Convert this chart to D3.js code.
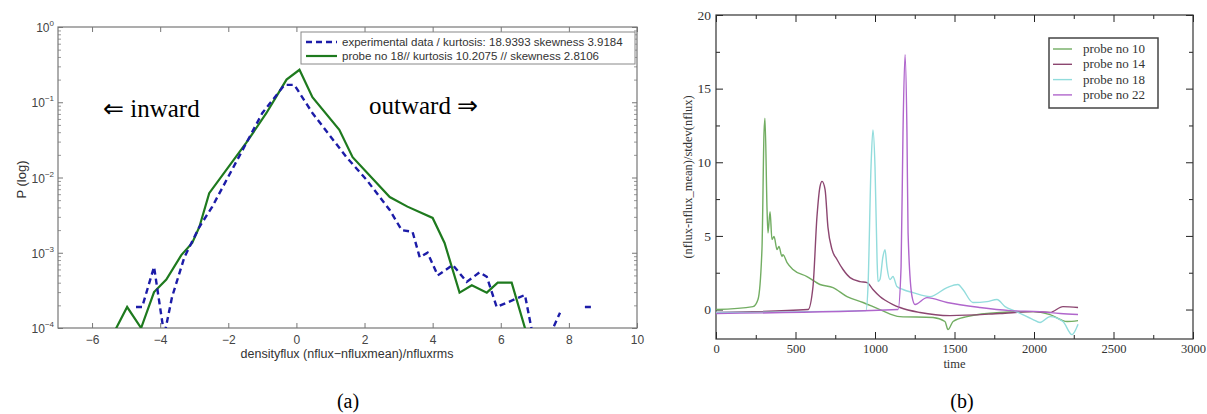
<!DOCTYPE html>
<html>
<head>
<meta charset="utf-8">
<title>flux pdf and probes</title>
<script src="https://d3js.org/d3.v7.min.js"></script>
<style>
  body { margin: 0; background: #fff; }
  svg { display: block; }
</style>
</head>
<body>
<div id="chart"></div>
<script>
// ---- panel (a): pdf of densityflux, log scale ----
var expX = [-4.71, -4.53, -4.18, -3.88, -3.65, -3.29, -2.85, -2.47, -1.74, -1.0, -0.35, -0.06, 0.47, 1.47, 2.06, 2.74, 3.09, 3.41, 3.62, 3.85, 4.15, 4.59, 5.0, 5.38, 5.59, 5.88, 6.71, 6.94, 7.2, 7.44, 7.74, 8.1, 8.47, 8.76];
var expP = [1.9e-4, 1.9e-4, 6.5e-4, 8e-5, 2.6e-4, 8.7e-4, 2.2e-3, 4.1e-3, 0.017, 0.072, 0.17, 0.17, 0.072, 0.0186, 0.0093, 0.0037, 0.002, 0.0019, 8.7e-4, 1.0e-3, 5.0e-4, 6.9e-4, 4.1e-4, 5.5e-4, 4.8e-4, 1.9e-4, 2.75e-4, 8e-5, null, 8e-5, 1.6e-4, null, 1.9e-4, 1.9e-4];
var simX = [-5.4, -4.97, -4.56, -4.18, -3.82, -3.38, -3.06, -2.85, -2.56, -1.47, -0.88, -0.29, 0.09, 0.47, 1.26, 1.65, 2.74, 3.26, 4.0, 4.35, 4.79, 5.15, 5.59, 5.91, 6.32, 6.71, 6.8];
var simP = [8e-5, 1.9e-4, 1.0e-4, 3.0e-4, 4.4e-4, 9.3e-4, 1.35e-3, 2.2e-3, 6.2e-3, 0.029, 0.072, 0.2, 0.27, 0.117, 0.043, 0.0186, 0.0055, 0.0041, 0.0029, 0.00135, 2.95e-4, 3.7e-4, 2.95e-4, 4.0e-4, 4.0e-4, 1.0e-4, 6e-5];
var legendA = ["experimental data / kurtosis: 18.9393 skewness 3.9184", "probe no 18// kurtosis 10.2075 // skewness 2.8106"];
var xTicksA = [-6, -4, -2, 0, 2, 4, 6, 8, 10];
var decades = [1e-4, 1e-3, 1e-2, 1e-1, 1];
var decadeExp = ["\u22124", "\u22123", "\u22122", "\u22121", "0"];

// ---- panel (b): normalized flux of four probes ----
var probeNames = ["probe no 10", "probe no 14", "probe no 18", "probe no 22"];
var t10 = [0, 233, 264, 289, 302, 308, 321, 327, 340, 352, 365, 384, 396, 415, 421, 447, 484, 572, 654, 736, 824, 925, 1031, 1157, 1365, 1440, 1459, 1491, 1579, 1786, 1994, 2101, 2208, 2277];
var v10 = [0.0, 0.2, 0.68, 4.07, 12.0, 13.0, 6.8, 5.2, 6.65, 4.75, 4.96, 4.07, 4.28, 3.6, 3.73, 3.19, 2.72, 2.24, 1.70, 1.49, 0.88, 0.48, 0.0, -0.48, -0.54, -0.81, -1.36, -0.81, -0.48, -0.2, -0.14, -0.34, -0.81, -0.75];
var t14 = [0, 579, 610, 635, 654, 667, 686, 704, 730, 761, 799, 843, 906, 950, 987, 1031, 1113, 1157, 1283, 1472, 1786, 1994, 2101, 2182, 2277];
var v14 = [-0.2, 0.0, 1.56, 6.3, 8.35, 8.7, 8.15, 5.6, 4.07, 3.4, 2.72, 2.17, 1.9, 1.83, 1.36, 0.88, 0.34, 0.14, -0.2, -0.41, -0.27, -0.14, -0.2, 0.2, 0.14];
var t18 = [0, 943, 956, 975, 987, 1000, 1013, 1019, 1031, 1050, 1063, 1075, 1094, 1113, 1138, 1176, 1239, 1346, 1453, 1522, 1553, 1616, 1704, 1767, 1818, 1880, 1994, 2038, 2101, 2182, 2239, 2277];
var v18 = [-0.2, -0.07, 1.56, 9.7, 12.2, 9.7, 3.4, 1.9, 2.04, 3.6, 4.07, 2.92, 2.04, 2.24, 1.56, 1.36, 1.15, 0.88, 1.49, 1.70, 1.36, 0.48, 0.54, 0.68, 0.2, -0.1, -0.68, -0.88, -0.48, -0.81, -1.7, -1.0];
var t22 = [0, 1145, 1164, 1176, 1189, 1201, 1208, 1233, 1252, 1327, 1453, 1660, 1849, 2038, 2164, 2277];
var v22 = [-0.27, 0.0, 2.9, 12.0, 17.3, 12.0, 5.2, 0.88, 0.34, 0.81, 0.48, 0.14, -0.07, -0.14, -0.27, -0.34];
var xTicksB = [0, 500, 1000, 1500, 2000, 2500, 3000];
var yTicksB = [0, 5, 10, 15, 20];

var W = 1207, H = 414;
var svg = d3.select("#chart").append("svg").attr("width", W).attr("height", H);

// ================= panel (a) =================
var A = {left: 58, right: 637, top: 27, bottom: 328};
var xa = d3.scaleLinear().domain([-7, 10]).range([A.left, A.right]);
var ya = d3.scaleLog().domain([1e-4, 1]).range([A.bottom, A.top]);
var sans = "'Liberation Sans', Arial, sans-serif";
var serif = "'Liberation Serif', 'Times New Roman', serif";

var ga = svg.append("g");
ga.append("clipPath").attr("id", "clipA").append("rect")
  .attr("x", A.left).attr("y", A.top).attr("width", A.right - A.left).attr("height", A.bottom - A.top);

var minorA = [];
decades.slice(0, 4).forEach(function(d) { for (var k = 2; k <= 9; k++) minorA.push(d * k); });

function styleAxis(g, col) {
  g.select(".domain").remove();
  g.selectAll(".tick line").attr("stroke", col);
}
ga.append("g").attr("transform", "translate(0," + A.bottom + ")")
  .call(d3.axisBottom(xa).tickValues(xTicksA).tickSizeInner(-5).tickSizeOuter(0).tickPadding(7).tickFormat(d3.format("d")))
  .call(function(g) { styleAxis(g, "#777"); })
  .selectAll("text").attr("font-family", sans).attr("font-size", 12).attr("fill", "#444")
  .text(function(d) { return d < 0 ? "\u2212" + Math.abs(d) : d; });
ga.append("g").attr("transform", "translate(0," + A.top + ")")
  .call(d3.axisTop(xa).tickValues(xTicksA).tickSizeInner(-5).tickSizeOuter(0).tickFormat(""))
  .call(function(g) { styleAxis(g, "#777"); });
[["L", A.left], ["R", A.right]].forEach(function(s) {
  var mk = s[0] === "L" ? d3.axisLeft : d3.axisRight;
  ga.append("g").attr("transform", "translate(" + s[1] + ",0)")
    .call(mk(ya).tickValues(decades).tickSizeInner(-5).tickSizeOuter(0).tickFormat(""))
    .call(function(g) { styleAxis(g, "#777"); });
  ga.append("g").attr("transform", "translate(" + s[1] + ",0)")
    .call(mk(ya).tickValues(minorA).tickSizeInner(-3).tickSizeOuter(0).tickFormat(""))
    .call(function(g) { styleAxis(g, "#999"); });
});
ga.append("rect").attr("x", A.left).attr("y", A.top).attr("width", A.right - A.left).attr("height", A.bottom - A.top)
  .attr("fill", "none").attr("stroke", "#777").attr("stroke-width", 1.2);

var labA = ga.selectAll(".ylab").data(decades).enter().append("text")
  .attr("x", A.left - 4).attr("y", function(d) { return ya(d) + 5; })
  .attr("text-anchor", "end").attr("font-family", sans).attr("font-size", 12).attr("fill", "#444");
labA.append("tspan").text("10");
labA.append("tspan").attr("dy", -6).attr("font-size", 8).text(function(d, i) { return decadeExp[i]; });

ga.append("text").attr("transform", "translate(26," + ((A.top + A.bottom) / 2 + 2) + ") rotate(-90)")
  .attr("text-anchor", "middle").attr("font-family", sans).attr("font-size", 13).attr("fill", "#333").text("P (log)");
ga.append("text").attr("x", 347).attr("y", 358).attr("text-anchor", "middle")
  .attr("font-family", sans).attr("font-size", 12.5).attr("fill", "#333")
  .text("densityflux (nflux\u2212nfluxmean)/nfluxrms");

var lineA = d3.line().defined(function(d) { return d[1] != null; })
  .x(function(d) { return xa(d[0]); }).y(function(d) { return ya(d[1]); });
var expData = expX.map(function(x, i) { return [x, expP[i]]; });
var simData = simX.map(function(x, i) { return [x, simP[i]]; });
var pa = ga.append("g").attr("clip-path", "url(#clipA)");
pa.append("path").attr("d", lineA(simData)).attr("fill", "none").attr("stroke", "#1e7a1e").attr("stroke-width", 2.2);
pa.append("path").attr("d", lineA(expData)).attr("fill", "none").attr("stroke", "#1c1ca8")
  .attr("stroke-width", 2.4).attr("stroke-dasharray", "6,4");

// legend (a)
ga.append("rect").attr("x", 301).attr("y", 32).attr("width", 334).attr("height", 32)
  .attr("fill", "#fff").attr("stroke", "#888").attr("stroke-width", 1);
var legA = ga.selectAll(".lega").data(legendA).enter().append("g")
  .attr("transform", function(d, i) { return "translate(0," + (42 + i * 14) + ")"; });
legA.append("line").attr("x1", 306).attr("x2", 337).attr("y1", 0).attr("y2", 0)
  .attr("stroke", function(d, i) { return i === 0 ? "#1c1ca8" : "#1e7a1e"; })
  .attr("stroke-width", function(d, i) { return i === 0 ? 2.4 : 2.2; })
  .attr("stroke-dasharray", function(d, i) { return i === 0 ? "6,4" : null; });
legA.append("text").attr("x", 342).attr("y", 4).attr("font-family", sans).attr("font-size", 11.5)
  .attr("fill", "#333").text(function(d) { return d; });

ga.append("text").attr("x", 103).attr("y", 117).attr("font-family", serif).attr("font-size", 25)
  .attr("fill", "#000").text("\u21D0 inward");
ga.append("text").attr("x", 369).attr("y", 114).attr("font-family", serif).attr("font-size", 25)
  .attr("fill", "#000").text("outward \u21D2");
ga.append("text").attr("x", 348).attr("y", 408).attr("text-anchor", "middle").attr("font-family", serif)
  .attr("font-size", 20).attr("fill", "#000").text("(a)");

// ================= panel (b) =================
var B = {left: 716, right: 1193, top: 15, bottom: 339};
var xb = d3.scaleLinear().domain([0, 3000]).range([B.left, B.right]);
var yb = d3.scaleLinear().domain([-2, 20]).range([B.bottom, B.top]);
var gb = svg.append("g");
gb.append("clipPath").attr("id", "clipB").append("rect")
  .attr("x", B.left).attr("y", B.top).attr("width", B.right - B.left).attr("height", B.bottom - B.top);

var minorXB = d3.range(250, 3000, 500), minorYB = [2.5, 7.5, 12.5, 17.5];
gb.append("g").attr("transform", "translate(0," + B.bottom + ")")
  .call(d3.axisBottom(xb).tickValues(xTicksB).tickSizeInner(-7).tickSizeOuter(0).tickPadding(5).tickFormat(d3.format("d")))
  .call(function(g) { styleAxis(g, "#222"); })
  .selectAll("text").attr("font-family", serif).attr("font-size", 12.5).attr("fill", "#333");
gb.append("g").attr("transform", "translate(0," + B.bottom + ")")
  .call(d3.axisBottom(xb).tickValues(minorXB).tickSizeInner(-4).tickSizeOuter(0).tickFormat(""))
  .call(function(g) { styleAxis(g, "#222"); });
gb.append("g").attr("transform", "translate(0," + B.top + ")")
  .call(d3.axisTop(xb).tickValues(xTicksB).tickSizeInner(-7).tickSizeOuter(0).tickFormat(""))
  .call(function(g) { styleAxis(g, "#222"); });
gb.append("g").attr("transform", "translate(0," + B.top + ")")
  .call(d3.axisTop(xb).tickValues(minorXB).tickSizeInner(-4).tickSizeOuter(0).tickFormat(""))
  .call(function(g) { styleAxis(g, "#222"); });
gb.append("g").attr("transform", "translate(" + B.left + ",0)")
  .call(d3.axisLeft(yb).tickValues(yTicksB).tickSizeInner(-7).tickSizeOuter(0).tickPadding(5))
  .call(function(g) { styleAxis(g, "#222"); })
  .selectAll("text").attr("font-family", serif).attr("font-size", 13.5).attr("fill", "#333");
gb.append("g").attr("transform", "translate(" + B.left + ",0)")
  .call(d3.axisLeft(yb).tickValues(minorYB).tickSizeInner(-4).tickSizeOuter(0).tickFormat(""))
  .call(function(g) { styleAxis(g, "#222"); });
gb.append("g").attr("transform", "translate(" + B.right + ",0)")
  .call(d3.axisRight(yb).tickValues(yTicksB).tickSizeInner(-7).tickSizeOuter(0).tickFormat(""))
  .call(function(g) { styleAxis(g, "#222"); });
gb.append("g").attr("transform", "translate(" + B.right + ",0)")
  .call(d3.axisRight(yb).tickValues(minorYB).tickSizeInner(-4).tickSizeOuter(0).tickFormat(""))
  .call(function(g) { styleAxis(g, "#222"); });
gb.append("rect").attr("x", B.left).attr("y", B.top).attr("width", B.right - B.left).attr("height", B.bottom - B.top)
  .attr("fill", "none").attr("stroke", "#333").attr("stroke-width", 1.2);

gb.append("text").attr("transform", "translate(692," + ((B.top + B.bottom) / 2) + ") rotate(-90)")
  .attr("text-anchor", "middle").attr("font-family", serif).attr("font-size", 12.5).attr("fill", "#333")
  .text("(nflux-nflux_mean)/stdev(nflux)");
gb.append("text").attr("x", xb(1500)).attr("y", 368).attr("text-anchor", "middle")
  .attr("font-family", serif).attr("font-size", 12.5).attr("fill", "#333").text("time");

var probeColors = ["#72ad62", "#8c4670", "#92dcdc", "#b066cc"];
var probes = [[t10, v10], [t14, v14], [t18, v18], [t22, v22]].map(function(p) {
  return p[0].map(function(t, i) { return [t, p[1][i]]; });
});
var lineB = d3.line().curve(d3.curveMonotoneX)
  .x(function(d) { return xb(d[0]); }).y(function(d) { return yb(d[1]); });
gb.append("g").attr("clip-path", "url(#clipB)").selectAll("path").data(probes).enter().append("path")
  .attr("d", lineB).attr("fill", "none").attr("stroke-width", 1.4)
  .attr("stroke", function(d, i) { return probeColors[i]; });

// legend (b)
gb.append("rect").attr("x", 1049).attr("y", 38).attr("width", 109).attr("height", 70)
  .attr("fill", "#fff").attr("stroke", "#444").attr("stroke-width", 1.5);
var legB = gb.selectAll(".legb").data(probeNames).enter().append("g")
  .attr("transform", function(d, i) { return "translate(0," + (49 + i * 15.3) + ")"; });
legB.append("line").attr("x1", 1053).attr("x2", 1072).attr("stroke-width", 1.4)
  .attr("stroke", function(d, i) { return probeColors[i]; });
legB.append("text").attr("x", 1083).attr("y", 4).attr("font-family", serif).attr("font-size", 13)
  .attr("fill", "#333").text(function(d) { return d; });

gb.append("text").attr("x", 962).attr("y", 408).attr("text-anchor", "middle").attr("font-family", serif)
  .attr("font-size", 20).attr("fill", "#000").text("(b)");
</script>
</body>
</html>
